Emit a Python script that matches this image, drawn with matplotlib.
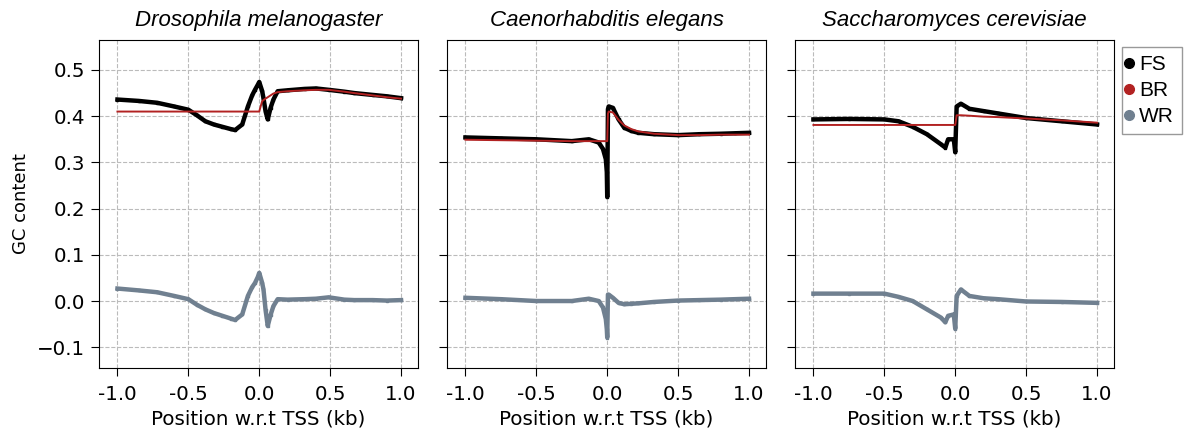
import matplotlib

matplotlib.use("Agg", force=True)
import matplotlib.pyplot as plt
from matplotlib.lines import Line2D


SPECIES = ["Drosophila melanogaster", "Caenorhabditis elegans", "Saccharomyces cerevisiae"]

# positions (kb) and GC content values
DM_X = [-1.0, -0.85, -0.72, -0.6, -0.5, -0.44, -0.38, -0.32, -0.26, -0.2, -0.17, -0.12,
        -0.08, -0.05, -0.03, -0.01, 0.0, 0.02, 0.03, 0.045, 0.06, 0.08, 0.1, 0.13,
        0.2, 0.32, 0.4, 0.49, 0.6, 0.67, 0.8, 0.9, 1.0]
DM_FS = [0.436, 0.433, 0.429, 0.421, 0.414, 0.402, 0.389, 0.382, 0.377, 0.372, 0.370, 0.382,
         0.421, 0.445, 0.457, 0.468, 0.474, 0.455, 0.439, 0.410, 0.393, 0.418, 0.436, 0.454,
         0.456, 0.459, 0.460, 0.457, 0.453, 0.450, 0.446, 0.443, 0.439]
DM_BR = [0.410, 0.410, 0.410, 0.410, 0.410, 0.410, 0.410, 0.410, 0.410, 0.410, 0.410, 0.410,
         0.410, 0.410, 0.410, 0.410, 0.410, 0.432, 0.435, 0.438, 0.441, 0.445, 0.449, 0.452,
         0.454, 0.456, 0.457, 0.457, 0.453, 0.450, 0.445, 0.441, 0.438]
DM_WR = [0.027, 0.023, 0.019, 0.011, 0.004, -0.008, -0.018, -0.026, -0.032, -0.038, -0.041, -0.029,
         0.011, 0.030, 0.039, 0.052, 0.061, 0.040, 0.025, -0.020, -0.054, -0.030, -0.011, 0.004,
         0.003, 0.004, 0.005, 0.008, 0.003, 0.002, 0.002, 0.001, 0.002]

CE_X = [-1.0, -0.75, -0.5, -0.25, -0.13, -0.06, -0.03, -0.01, -0.003, 0.0, 0.005, 0.01,
        0.04, 0.08, 0.12, 0.17, 0.22, 0.33, 0.5, 0.65, 0.8, 0.9, 1.0]
CE_FS = [0.354, 0.352, 0.350, 0.346, 0.350, 0.343, 0.329, 0.307, 0.279, 0.225, 0.415, 0.421,
         0.418, 0.393, 0.375, 0.368, 0.364, 0.361, 0.359, 0.361, 0.362, 0.363, 0.364]
CE_BR = [0.349, 0.348, 0.347, 0.346, 0.346, 0.346, 0.346, 0.346, 0.346, 0.346, 0.405, 0.410,
         0.408, 0.392, 0.380, 0.372, 0.367, 0.362, 0.359, 0.359, 0.360, 0.360, 0.360]
CE_WR = [0.007, 0.004, 0.000, 0.000, 0.005, 0.000, -0.014, -0.039, -0.061, -0.079, 0.014, 0.014,
         0.007, -0.004, -0.007, -0.006, -0.005, -0.002, 0.001, 0.002, 0.003, 0.004, 0.005]

SC_X = [-1.0, -0.75, -0.5, -0.4, -0.3, -0.2, -0.1, -0.07, -0.05, -0.01, 0.0, 0.01,
        0.04, 0.1, 0.2, 0.3, 0.5, 0.75, 1.0]
SC_FS = [0.393, 0.394, 0.393, 0.389, 0.377, 0.361, 0.339, 0.332, 0.350, 0.350, 0.322, 0.421,
         0.427, 0.416, 0.411, 0.406, 0.396, 0.389, 0.382]
SC_BR = [0.381, 0.381, 0.381, 0.381, 0.381, 0.381, 0.381, 0.381, 0.381, 0.381, 0.381, 0.402,
         0.402, 0.401, 0.399, 0.398, 0.395, 0.391, 0.386]
SC_WR = [0.016, 0.016, 0.016, 0.009, 0.000, -0.018, -0.036, -0.046, -0.032, -0.029, -0.060, 0.011,
         0.025, 0.011, 0.006, 0.004, -0.001, -0.002, -0.004]

PANELS = [
    (DM_X, DM_FS, DM_BR, DM_WR),
    (CE_X, CE_FS, CE_BR, CE_WR),
    (SC_X, SC_FS, SC_BR, SC_WR),
]

X_TICKS = [-1.0, -0.5, 0.0, 0.5, 1.0]
X_TICK_LABELS = ["-1.0", "-0.5", "0.0", "0.5", "1.0"]
Y_TICKS = [-0.1, 0.0, 0.1, 0.2, 0.3, 0.4, 0.5]

FS_COLOR = "black"
BR_COLOR = "#b22222"
WR_COLOR = "#708090"


def draw_panel(ax, xs, fs, br, wr, title, show_ylabels):
    ax.plot(xs, fs, color=FS_COLOR, lw=3.2, marker="s", ms=1.8)
    ax.plot(xs, br, color=BR_COLOR, lw=1.4)
    ax.plot(xs, wr, color=WR_COLOR, lw=3.2, marker="s", ms=1.8)

    ax.set_xlim(-1.13, 1.12)
    ax.set_ylim(-0.145, 0.565)
    ax.set_xticks(X_TICKS)
    ax.set_xticklabels(X_TICK_LABELS)
    ax.set_yticks(Y_TICKS)
    if not show_ylabels:
        ax.set_yticklabels([])
    ax.tick_params(labelsize=14.3, length=6)
    ax.tick_params(axis="x", pad=6.5)
    ax.tick_params(axis="y", pad=4)
    ax.grid(True, linestyle="--", color="#bbbbbb", lw=0.8)
    ax.set_axisbelow(True)
    ax.set_xlabel("Position w.r.t TSS (kb)", fontsize=14.3, labelpad=4)
    ax.set_title(title, fontsize=16, style="italic", family="Liberation Sans", pad=10)


def main():
    fig = plt.figure(figsize=(11.93, 4.34), dpi=100)
    lefts = [0.083, 0.3747, 0.6664]
    for i, (left, (xs, fs, br, wr)) in enumerate(zip(lefts, PANELS)):
        ax = fig.add_axes([left, 0.152, 0.2674, 0.756])
        draw_panel(ax, xs, fs, br, wr, SPECIES[i], show_ylabels=(i == 0))
        if i == 0:
            ax.set_ylabel("GC content", fontsize=13, labelpad=5)

    handles = [
        Line2D([], [], ls="", marker="o", ms=7, color=FS_COLOR),
        Line2D([], [], ls="", marker="o", ms=7, color=BR_COLOR),
        Line2D([], [], ls="", marker="o", ms=7, color=WR_COLOR),
    ]
    leg = fig.legend(handles, ["FS", "BR", "WR"], loc="upper left",
                     bbox_to_anchor=(1121.5 / 1193, 1 - 47.5 / 434),
                     prop={"family": "Liberation Sans", "size": 15},
                     frameon=True, fancybox=False, edgecolor="#808080",
                     handletextpad=0.45, handlelength=0.0, borderpad=0.38,
                     labelspacing=0.33, borderaxespad=0.0)
    leg.get_frame().set_linewidth(1.0)

    fig.savefig("out.png", dpi=100, facecolor="white")
    plt.close(fig)


if __name__ == "__main__":
    main()
